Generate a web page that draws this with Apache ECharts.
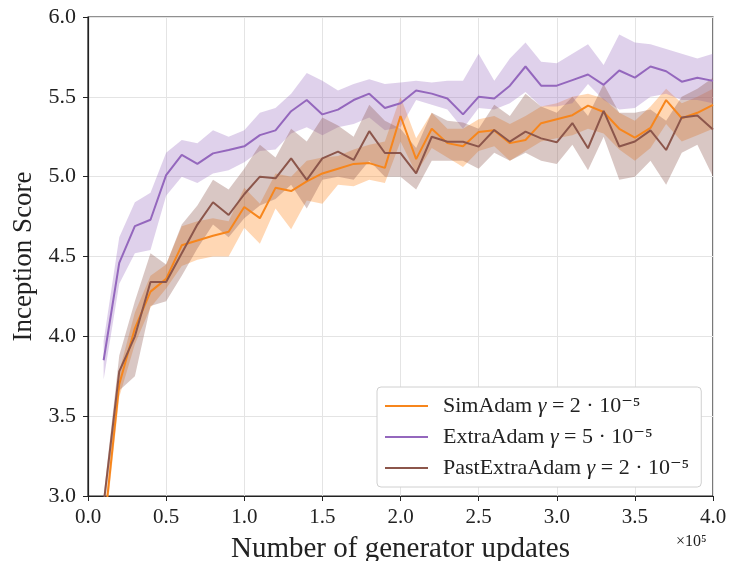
<!DOCTYPE html>
<html><head><meta charset="utf-8">
<script src="https://cdn.jsdelivr.net/npm/echarts@6/dist/echarts.min.js"></script>
<style>html,body{margin:0;padding:0;background:#fff}#c{width:730px;height:561px}</style>
</head><body><div id="c"></div>
<script>
// x positions (units of 1e5 generator updates)
const updates = [0.1,0.2,0.3,0.4,0.5,0.6,0.7,0.8,0.9,1.0,1.1,1.2,1.3,1.4,1.5,1.6,1.7,1.8,1.9,2.0,
                 2.1,2.2,2.3,2.4,2.5,2.6,2.7,2.8,2.9,3.0,3.1,3.2,3.3,3.4,3.5,3.6,3.7,3.8,3.9,4.0];
const xTicks = [0.0,0.5,1.0,1.5,2.0,2.5,3.0,3.5,4.0];
const yTicks = [3.0,3.5,4.0,4.5,5.0,5.5,6.0];

// SimAdam
const simMean  = [2.77,3.70,4.05,4.28,4.36,4.57,4.60,4.63,4.655,4.81,4.74,4.93,4.91,4.97,5.02,5.05,5.08,5.085,5.055,5.38,
                  5.11,5.30,5.21,5.19,5.28,5.29,5.21,5.23,5.335,5.36,5.385,5.445,5.405,5.30,5.245,5.305,5.48,5.366,5.40,5.45];
const simLow   = [2.70,3.62,3.95,4.18,4.30,4.44,4.48,4.50,4.50,4.68,4.58,4.80,4.67,4.85,4.83,4.95,4.94,4.98,4.96,5.22,
                  5.02,5.18,5.12,5.06,5.16,5.19,5.10,5.16,5.22,5.24,5.26,5.30,5.27,5.17,5.10,5.18,5.33,5.22,5.26,5.30];
const simHigh  = [2.85,3.78,4.15,4.38,4.45,4.69,4.72,4.74,4.72,4.93,4.83,5.02,5.00,5.10,5.12,5.13,5.17,5.20,5.22,5.50,
                  5.24,5.40,5.30,5.30,5.36,5.38,5.33,5.38,5.44,5.46,5.50,5.52,5.49,5.40,5.35,5.44,5.55,5.46,5.50,5.55];

// ExtraAdam
const extraMean = [3.85,4.46,4.69,4.73,5.01,5.136,5.08,5.146,5.167,5.19,5.26,5.29,5.41,5.48,5.39,5.42,5.48,5.52,5.43,5.46,
                   5.54,5.52,5.49,5.39,5.50,5.49,5.57,5.69,5.57,5.57,5.605,5.64,5.575,5.665,5.62,5.69,5.66,5.595,5.62,5.60];
const extraLow  = [3.73,4.33,4.52,4.54,4.88,5.00,4.96,5.02,5.04,5.09,5.16,5.17,5.27,5.31,5.26,5.31,5.33,5.37,5.29,5.31,
                   5.48,5.45,5.42,5.30,5.43,5.42,5.46,5.53,5.44,5.44,5.46,5.58,5.48,5.42,5.43,5.50,5.52,5.48,5.48,5.46];
const extraHigh = [3.97,4.62,4.84,4.90,5.15,5.23,5.21,5.29,5.25,5.29,5.40,5.43,5.52,5.65,5.60,5.54,5.58,5.61,5.58,5.59,
                   5.60,5.59,5.60,5.60,5.77,5.60,5.74,5.84,5.72,5.71,5.77,5.83,5.70,5.89,5.84,5.83,5.80,5.77,5.74,5.77];

// PastExtraAdam
const pastMean = [2.95,3.78,4.00,4.34,4.34,4.52,4.70,4.84,4.76,4.89,5.00,4.99,5.115,4.98,5.115,5.157,5.105,5.285,5.148,5.148,
                  5.02,5.25,5.219,5.219,5.188,5.292,5.219,5.282,5.24,5.215,5.336,5.178,5.412,5.189,5.22,5.29,5.167,5.371,5.383,5.295];
const pastLow  = [2.90,3.66,3.75,4.19,4.22,4.38,4.55,4.70,4.62,4.74,4.82,4.86,4.95,4.80,4.98,5.00,4.98,5.10,5.00,5.00,
                  4.92,5.10,5.10,5.10,5.05,5.15,5.10,5.15,5.10,5.08,5.20,5.04,5.25,4.98,5.00,5.10,4.95,5.15,5.20,5.00];
const pastHigh = [3.00,3.88,4.22,4.52,4.45,4.70,4.82,4.98,4.92,5.05,5.20,5.12,5.30,5.22,5.37,5.32,5.25,5.45,5.35,5.30,
                  5.18,5.40,5.35,5.34,5.30,5.45,5.38,5.52,5.44,5.40,5.50,5.38,5.58,5.40,5.40,5.42,5.35,5.50,5.55,5.62];

const FONT = '"Liberation Serif", "DejaVu Serif", serif';
const methods = [
  {name: 'SimAdam', label: '{n|SimAdam} {g|γ} = 2 · 10⁻⁵', color: '#f7861c', band: 'rgba(255,140,40,0.35)', mean: simMean, low: simLow, high: simHigh},
  {name: 'ExtraAdam', label: '{n|ExtraAdam} {g|γ} = 5 · 10⁻⁵', color: '#9467bd', band: 'rgba(148,103,189,0.3)', mean: extraMean, low: extraLow, high: extraHigh},
  {name: 'PastExtraAdam', label: '{n|PastExtraAdam} {g|γ} = 2 · 10⁻⁵', color: '#8c564b', band: 'rgba(140,86,75,0.33)', mean: pastMean, low: pastLow, high: pastHigh}
];

const series = [];
methods.forEach((m, k) => {
  series.push({
    name: m.name + '_band', type: 'custom', silent: true, clip: true, z: 1,
    data: [[updates[0], m.low[0]]],
    renderItem: function (params, api) {
      const pts = [];
      for (let i = 0; i < updates.length; i++) pts.push(api.coord([updates[i], m.high[i]]));
      for (let i = updates.length - 1; i >= 0; i--) pts.push(api.coord([updates[i], m.low[i]]));
      return {type: 'polygon', shape: {points: pts}, style: {fill: m.band}};
    }
  });
});
methods.forEach(m => {
  series.push({
    name: m.name, type: 'line', symbol: 'none', color: m.color,
    lineStyle: {color: m.color, width: 2},
    data: updates.map((x, i) => [x, m.mean[i]]), z: 5
  });
});

const chart = echarts.init(document.getElementById('c'), null, {renderer: 'canvas'});
chart.setOption({
  animation: false,
  backgroundColor: '#fff',
  grid: {left: 88, right: 17, top: 17, bottom: 65, outerBoundsMode: 'none', containLabel: false,
         show: true, borderColor: '#222', borderWidth: 1.2, backgroundColor: 'transparent'},
  xAxis: {
    type: 'value', min: xTicks[0], max: xTicks[xTicks.length - 1], interval: 0.5,
    name: 'Number of generator updates', nameLocation: 'middle', nameGap: 39,
    nameTextStyle: {fontFamily: FONT, fontSize: 29, color: '#222'},
    axisLine: {lineStyle: {color: '#222', width: 1.2}},
    axisTick: {show: true, length: 5, lineStyle: {color: '#222'}},
    axisLabel: {fontFamily: FONT, fontSize: 21, color: '#222', margin: 11, formatter: v => v.toFixed(1)},
    splitLine: {show: true, lineStyle: {color: '#e4e4e4', width: 1}}
  },
  yAxis: {
    type: 'value', min: yTicks[0], max: yTicks[yTicks.length - 1], interval: 0.5,
    name: 'Inception Score', nameLocation: 'middle', nameGap: 48, nameRotate: 90,
    nameTextStyle: {fontFamily: FONT, fontSize: 27, color: '#222'},
    axisLine: {show: true, lineStyle: {color: '#222', width: 1.2}},
    axisTick: {show: true, length: 5, lineStyle: {color: '#222'}},
    axisLabel: {fontFamily: FONT, fontSize: 22, color: '#222', margin: 12, formatter: v => v.toFixed(1)},
    splitLine: {show: true, lineStyle: {color: '#e4e4e4', width: 1}}
  },
  legend: {
    data: methods.map(m => m.name), orient: 'vertical', left: 377, top: 387,
    padding: [8, 12, 8, 8], itemGap: 9, itemWidth: 43, itemHeight: 2, icon: 'rect',
    backgroundColor: '#fff', borderColor: '#d0d0d0', borderWidth: 1, borderRadius: 4,
    formatter: name => methods.find(m => m.name === name).label,
    textStyle: {fontFamily: FONT, fontSize: 22, color: '#222', lineHeight: 22,
      rich: {n: {fontFamily: FONT, fontSize: 22, color: '#222', padding: [0, 0, 0, 10]},
             g: {fontFamily: FONT, fontSize: 22, fontStyle: 'italic', color: '#222'}}}
  },
  graphic: [{type: 'text', left: 676, top: 534, style: {text: '×10⁵', font: '16px ' + FONT, fill: '#222'}}],
  series: series
});
</script></body></html>
